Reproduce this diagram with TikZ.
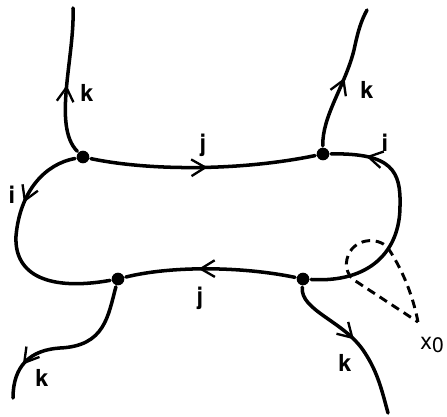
\documentclass[tikz,border=0pt]{standalone}
\usepackage{fontspec}
\setmainfont{TeX Gyre Heros}
\usetikzlibrary{arrows.meta, decorations.markings}
\tikzset{
  every picture/.style={line width=3pt},
  strand/.style={draw, line cap=round},
  vertex/.style={circle, fill, inner sep=0pt, minimum size=0.38cm},
  lbl/.style={font=\fontsize{20}{24}\selectfont\bfseries, inner sep=1pt},
  midarrow/.style={postaction={decorate, decoration={markings, mark=at position #1 with {\arrow{Straight Barb[length=4.2mm, width=5mm, line width=2pt]}}}}},
  loopdash/.style={dash pattern=on 0.26cm off 0.17cm, line width=2.5pt},
}

\begin{document}
\begin{tikzpicture}[x=0.03cm, y=0.03cm]
  % grid in pixels of the sketch, y counted from the bottom
  \useasboundingbox (0,0) rectangle (447,416);
  \node[vertex] (A) at (83,259) {};
  \node[vertex] (B) at (323,262) {};
  \node[vertex] (C) at (118,137) {};
  \node[vertex] (D) at (303,137) {};
  \coordinate (kA) at (73,408);
  \coordinate (kB) at (367,406);
  \coordinate (kC) at (13,18);
  \coordinate (kD) at (388,3);
  \coordinate (tip) at (418,94);
  % outer k strands
  \draw[strand, midarrow=0.47] (A) .. controls (52,290) and (75,360) .. (kA);
  \draw[strand, midarrow=0.5] (B) .. controls (322,300) and (345,330) .. (354,366) .. controls (358,385) and (361,395) .. (kB);
  \draw[strand, midarrow=0.79] (C) .. controls (108,100) and (105,70) .. (60,68) .. controls (30,66) and (13,50) .. (kC);
  \draw[strand, midarrow=0.48] (D) .. controls (300,105) and (345,95) .. (365,63) .. controls (378,43) and (382,25) .. (kD);
  % the loop: j on top and bottom, i at the ends
  \draw[strand, midarrow=0.52] (A) .. controls (150,245) and (240,245) .. (B);
  \draw[strand, midarrow=0.57] (D) .. controls (240,150) and (170,150) .. (C);
  \draw[strand, midarrow=0.31] (A) .. controls (45,252) and (20,225) .. (16,180) .. controls (14,140) and (50,125) .. (C);
  \draw[strand, midarrow=0.85] (D) .. controls (370,133) and (400,165) .. (400,210) .. controls (401,245) and (392,263) .. (B);
  % base point loop
  \draw[loopdash] (tip) .. controls (412,125) and (400,150) .. (388,168) .. controls (378,180) and (352,178) .. (347,157) .. controls (344,145) and (352,136) .. (357,134) -- (tip);
  \node[lbl] (kAl) at (87,323) {k};
  \node[lbl] (kBl) at (367,326) {k};
  \node[lbl] (kCl) at (42,38) {k};
  \node[lbl] (kDl) at (345,53) {k};
  \node[lbl] (jtop) at (203,271) {j};
  \node[lbl] (jbot) at (200,118) {j};
  \node[lbl] (iB) at (385,273) {i};
  \node[lbl] (iA) at (12,221) {i};
  \node[lbl, font=\fontsize{20}{24}\selectfont] (xo) at (432,71) {x\raisebox{-0.3ex}{\fontsize{18}{20}\selectfont 0}};
\end{tikzpicture}
\end{document}
